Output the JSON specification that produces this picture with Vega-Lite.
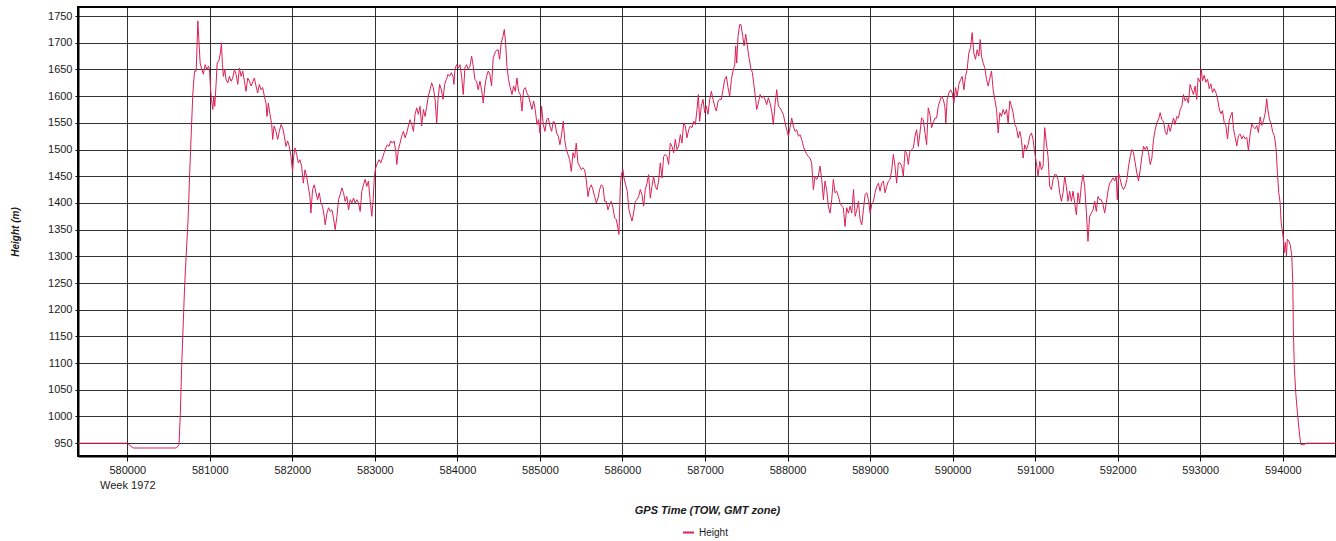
{
  "$schema": "https://vega.github.io/schema/vega-lite/v6.json",
  "width": 1258,
  "height": 449,
  "autosize": "none",
  "padding": {"left": 78, "top": 7, "right": 0, "bottom": 85},
  "background": "white",
  "config": {
    "view": {"stroke": "#000", "strokeWidth": 2},
    "font": "Liberation Sans",
    "axis": {
      "labelFont": "Liberation Sans",
      "labelFontSize": 11,
      "labelColor": "#1a1a1a",
      "titleFont": "Liberation Sans",
      "titleFontStyle": "italic",
      "titleFontWeight": "bold",
      "titleColor": "#1a1a1a",
      "gridColor": "#000",
      "gridOpacity": 0.8,
      "gridWidth": 1,
      "domainColor": "#000",
      "domainWidth": 2,
      "tickColor": "#000"
    }
  },
  "data": {
    "values": [
      {"time": 579380, "height": 950},
      {"time": 580000, "height": 950},
      {"time": 580072, "height": 941},
      {"time": 580594, "height": 941},
      {"time": 580627, "height": 947},
      {"time": 580643, "height": 1006},
      {"time": 580659, "height": 1094},
      {"time": 580675, "height": 1162},
      {"time": 580695, "height": 1244},
      {"time": 580715, "height": 1306},
      {"time": 580735, "height": 1362},
      {"time": 580755, "height": 1450},
      {"time": 580775, "height": 1531},
      {"time": 580795, "height": 1606},
      {"time": 580815, "height": 1647},
      {"time": 580835, "height": 1647},
      {"time": 580855, "height": 1741},
      {"time": 580867, "height": 1706},
      {"time": 580883, "height": 1662},
      {"time": 580903, "height": 1650},
      {"time": 580923, "height": 1641},
      {"time": 580943, "height": 1659},
      {"time": 580964, "height": 1650},
      {"time": 580984, "height": 1656},
      {"time": 580996, "height": 1650},
      {"time": 581008, "height": 1616},
      {"time": 581020, "height": 1594},
      {"time": 581036, "height": 1575},
      {"time": 581048, "height": 1600},
      {"time": 581060, "height": 1581},
      {"time": 581077, "height": 1625},
      {"time": 581089, "height": 1662},
      {"time": 581109, "height": 1666},
      {"time": 581129, "height": 1681},
      {"time": 581141, "height": 1700},
      {"time": 581153, "height": 1659},
      {"time": 581165, "height": 1637},
      {"time": 581181, "height": 1650},
      {"time": 581197, "height": 1631},
      {"time": 581218, "height": 1625},
      {"time": 581238, "height": 1637},
      {"time": 581258, "height": 1628},
      {"time": 581278, "height": 1634},
      {"time": 581298, "height": 1650},
      {"time": 581318, "height": 1641},
      {"time": 581339, "height": 1622},
      {"time": 581359, "height": 1653},
      {"time": 581379, "height": 1637},
      {"time": 581399, "height": 1647},
      {"time": 581419, "height": 1628},
      {"time": 581439, "height": 1609},
      {"time": 581459, "height": 1634},
      {"time": 581480, "height": 1628},
      {"time": 581500, "height": 1619},
      {"time": 581540, "height": 1634},
      {"time": 581560, "height": 1619},
      {"time": 581580, "height": 1606},
      {"time": 581600, "height": 1622},
      {"time": 581621, "height": 1612},
      {"time": 581641, "height": 1616},
      {"time": 581661, "height": 1600},
      {"time": 581681, "height": 1587},
      {"time": 581693, "height": 1562},
      {"time": 581709, "height": 1587},
      {"time": 581729, "height": 1566},
      {"time": 581750, "height": 1547},
      {"time": 581762, "height": 1519},
      {"time": 581778, "height": 1544},
      {"time": 581802, "height": 1534},
      {"time": 581822, "height": 1519},
      {"time": 581842, "height": 1534},
      {"time": 581863, "height": 1547},
      {"time": 581883, "height": 1541},
      {"time": 581903, "height": 1525},
      {"time": 581923, "height": 1506},
      {"time": 581943, "height": 1516},
      {"time": 581963, "height": 1506},
      {"time": 581983, "height": 1487},
      {"time": 582003, "height": 1459},
      {"time": 582016, "height": 1487},
      {"time": 582032, "height": 1503},
      {"time": 582052, "height": 1491},
      {"time": 582072, "height": 1475},
      {"time": 582092, "height": 1481},
      {"time": 582112, "height": 1469},
      {"time": 582133, "height": 1437},
      {"time": 582153, "height": 1462},
      {"time": 582173, "height": 1450},
      {"time": 582193, "height": 1431},
      {"time": 582213, "height": 1412},
      {"time": 582225, "height": 1381},
      {"time": 582245, "height": 1425},
      {"time": 582266, "height": 1434},
      {"time": 582286, "height": 1419},
      {"time": 582306, "height": 1406},
      {"time": 582326, "height": 1419},
      {"time": 582346, "height": 1400},
      {"time": 582366, "height": 1394},
      {"time": 582386, "height": 1375},
      {"time": 582398, "height": 1359},
      {"time": 582419, "height": 1381},
      {"time": 582439, "height": 1391},
      {"time": 582459, "height": 1384},
      {"time": 582479, "height": 1387},
      {"time": 582499, "height": 1372},
      {"time": 582519, "height": 1350},
      {"time": 582540, "height": 1375},
      {"time": 582560, "height": 1406},
      {"time": 582580, "height": 1416},
      {"time": 582600, "height": 1428},
      {"time": 582620, "height": 1419},
      {"time": 582640, "height": 1403},
      {"time": 582660, "height": 1412},
      {"time": 582681, "height": 1387},
      {"time": 582701, "height": 1406},
      {"time": 582721, "height": 1400},
      {"time": 582741, "height": 1409},
      {"time": 582761, "height": 1400},
      {"time": 582781, "height": 1406},
      {"time": 582801, "height": 1400},
      {"time": 582822, "height": 1384},
      {"time": 582842, "height": 1422},
      {"time": 582862, "height": 1434},
      {"time": 582882, "height": 1444},
      {"time": 582902, "height": 1431},
      {"time": 582922, "height": 1441},
      {"time": 582942, "height": 1406},
      {"time": 582963, "height": 1375},
      {"time": 582979, "height": 1406},
      {"time": 582995, "height": 1453},
      {"time": 583011, "height": 1466},
      {"time": 583031, "height": 1475},
      {"time": 583051, "height": 1481},
      {"time": 583071, "height": 1475},
      {"time": 583092, "height": 1484},
      {"time": 583112, "height": 1494},
      {"time": 583132, "height": 1503},
      {"time": 583152, "height": 1509},
      {"time": 583172, "height": 1506},
      {"time": 583192, "height": 1516},
      {"time": 583212, "height": 1512},
      {"time": 583233, "height": 1516},
      {"time": 583253, "height": 1497},
      {"time": 583265, "height": 1472},
      {"time": 583285, "height": 1500},
      {"time": 583305, "height": 1512},
      {"time": 583325, "height": 1525},
      {"time": 583346, "height": 1534},
      {"time": 583366, "height": 1522},
      {"time": 583386, "height": 1531},
      {"time": 583406, "height": 1544},
      {"time": 583426, "height": 1556},
      {"time": 583446, "height": 1547},
      {"time": 583467, "height": 1534},
      {"time": 583487, "height": 1566},
      {"time": 583507, "height": 1578},
      {"time": 583527, "height": 1566},
      {"time": 583547, "height": 1581},
      {"time": 583567, "height": 1544},
      {"time": 583588, "height": 1575},
      {"time": 583608, "height": 1562},
      {"time": 583628, "height": 1581},
      {"time": 583648, "height": 1600},
      {"time": 583668, "height": 1612},
      {"time": 583688, "height": 1625},
      {"time": 583708, "height": 1616},
      {"time": 583729, "height": 1594},
      {"time": 583749, "height": 1550},
      {"time": 583765, "height": 1594},
      {"time": 583785, "height": 1622},
      {"time": 583805, "height": 1612},
      {"time": 583825, "height": 1594},
      {"time": 583845, "height": 1622},
      {"time": 583866, "height": 1631},
      {"time": 583886, "height": 1641},
      {"time": 583906, "height": 1637},
      {"time": 583926, "height": 1644},
      {"time": 583946, "height": 1637},
      {"time": 583958, "height": 1622},
      {"time": 583970, "height": 1650},
      {"time": 583990, "height": 1659},
      {"time": 584011, "height": 1653},
      {"time": 584031, "height": 1659},
      {"time": 584051, "height": 1637},
      {"time": 584071, "height": 1603},
      {"time": 584091, "height": 1653},
      {"time": 584111, "height": 1659},
      {"time": 584131, "height": 1650},
      {"time": 584152, "height": 1656},
      {"time": 584172, "height": 1675},
      {"time": 584192, "height": 1656},
      {"time": 584212, "height": 1631},
      {"time": 584232, "height": 1628},
      {"time": 584252, "height": 1612},
      {"time": 584273, "height": 1628},
      {"time": 584293, "height": 1612},
      {"time": 584313, "height": 1587},
      {"time": 584333, "height": 1619},
      {"time": 584353, "height": 1637},
      {"time": 584373, "height": 1647},
      {"time": 584393, "height": 1641},
      {"time": 584414, "height": 1619},
      {"time": 584434, "height": 1672},
      {"time": 584462, "height": 1684},
      {"time": 584494, "height": 1687},
      {"time": 584511, "height": 1669},
      {"time": 584531, "height": 1700},
      {"time": 584552, "height": 1712},
      {"time": 584568, "height": 1725},
      {"time": 584584, "height": 1700},
      {"time": 584600, "height": 1656},
      {"time": 584620, "height": 1631},
      {"time": 584640, "height": 1616},
      {"time": 584661, "height": 1603},
      {"time": 584681, "height": 1619},
      {"time": 584701, "height": 1609},
      {"time": 584721, "height": 1634},
      {"time": 584741, "height": 1609},
      {"time": 584762, "height": 1603},
      {"time": 584782, "height": 1572},
      {"time": 584802, "height": 1612},
      {"time": 584822, "height": 1616},
      {"time": 584842, "height": 1606},
      {"time": 584862, "height": 1600},
      {"time": 584883, "height": 1587},
      {"time": 584903, "height": 1575},
      {"time": 584923, "height": 1591},
      {"time": 584943, "height": 1575},
      {"time": 584964, "height": 1547},
      {"time": 584984, "height": 1556},
      {"time": 585000, "height": 1531},
      {"time": 585020, "height": 1581},
      {"time": 585040, "height": 1547},
      {"time": 585061, "height": 1534},
      {"time": 585081, "height": 1556},
      {"time": 585101, "height": 1559},
      {"time": 585121, "height": 1544},
      {"time": 585141, "height": 1534},
      {"time": 585162, "height": 1553},
      {"time": 585182, "height": 1550},
      {"time": 585202, "height": 1531},
      {"time": 585222, "height": 1525},
      {"time": 585242, "height": 1509},
      {"time": 585262, "height": 1528},
      {"time": 585283, "height": 1553},
      {"time": 585299, "height": 1519},
      {"time": 585319, "height": 1500},
      {"time": 585339, "height": 1491},
      {"time": 585360, "height": 1481},
      {"time": 585380, "height": 1459},
      {"time": 585400, "height": 1494},
      {"time": 585420, "height": 1484},
      {"time": 585440, "height": 1512},
      {"time": 585460, "height": 1475},
      {"time": 585481, "height": 1469},
      {"time": 585501, "height": 1462},
      {"time": 585521, "height": 1466},
      {"time": 585541, "height": 1462},
      {"time": 585561, "height": 1444},
      {"time": 585582, "height": 1412},
      {"time": 585602, "height": 1428},
      {"time": 585622, "height": 1434},
      {"time": 585642, "height": 1425},
      {"time": 585663, "height": 1412},
      {"time": 585683, "height": 1400},
      {"time": 585703, "height": 1409},
      {"time": 585723, "height": 1425},
      {"time": 585743, "height": 1434},
      {"time": 585764, "height": 1431},
      {"time": 585784, "height": 1403},
      {"time": 585804, "height": 1403},
      {"time": 585824, "height": 1387},
      {"time": 585844, "height": 1397},
      {"time": 585864, "height": 1403},
      {"time": 585885, "height": 1391},
      {"time": 585905, "height": 1372},
      {"time": 585925, "height": 1369},
      {"time": 585945, "height": 1353},
      {"time": 585957, "height": 1341},
      {"time": 585974, "height": 1431},
      {"time": 585986, "height": 1453},
      {"time": 586006, "height": 1462},
      {"time": 586018, "height": 1447},
      {"time": 586038, "height": 1434},
      {"time": 586058, "height": 1422},
      {"time": 586078, "height": 1387},
      {"time": 586099, "height": 1375},
      {"time": 586115, "height": 1366},
      {"time": 586135, "height": 1381},
      {"time": 586155, "height": 1403},
      {"time": 586175, "height": 1406},
      {"time": 586196, "height": 1412},
      {"time": 586216, "height": 1425},
      {"time": 586236, "height": 1416},
      {"time": 586256, "height": 1394},
      {"time": 586276, "height": 1425},
      {"time": 586297, "height": 1437},
      {"time": 586317, "height": 1453},
      {"time": 586337, "height": 1409},
      {"time": 586357, "height": 1431},
      {"time": 586377, "height": 1450},
      {"time": 586398, "height": 1431},
      {"time": 586418, "height": 1425},
      {"time": 586438, "height": 1441},
      {"time": 586458, "height": 1475},
      {"time": 586478, "height": 1447},
      {"time": 586499, "height": 1487},
      {"time": 586519, "height": 1491},
      {"time": 586539, "height": 1487},
      {"time": 586559, "height": 1472},
      {"time": 586579, "height": 1512},
      {"time": 586600, "height": 1506},
      {"time": 586620, "height": 1494},
      {"time": 586640, "height": 1519},
      {"time": 586660, "height": 1500},
      {"time": 586680, "height": 1506},
      {"time": 586701, "height": 1528},
      {"time": 586721, "height": 1512},
      {"time": 586741, "height": 1550},
      {"time": 586761, "height": 1544},
      {"time": 586781, "height": 1522},
      {"time": 586802, "height": 1537},
      {"time": 586822, "height": 1544},
      {"time": 586842, "height": 1541},
      {"time": 586862, "height": 1553},
      {"time": 586883, "height": 1547},
      {"time": 586903, "height": 1575},
      {"time": 586919, "height": 1603},
      {"time": 586935, "height": 1553},
      {"time": 586955, "height": 1581},
      {"time": 586976, "height": 1594},
      {"time": 586996, "height": 1569},
      {"time": 587016, "height": 1581},
      {"time": 587036, "height": 1566},
      {"time": 587057, "height": 1594},
      {"time": 587077, "height": 1609},
      {"time": 587097, "height": 1594},
      {"time": 587117, "height": 1581},
      {"time": 587137, "height": 1572},
      {"time": 587158, "height": 1591},
      {"time": 587178, "height": 1594},
      {"time": 587198, "height": 1594},
      {"time": 587218, "height": 1612},
      {"time": 587238, "height": 1631},
      {"time": 587259, "height": 1637},
      {"time": 587279, "height": 1616},
      {"time": 587299, "height": 1600},
      {"time": 587319, "height": 1631},
      {"time": 587339, "height": 1647},
      {"time": 587360, "height": 1659},
      {"time": 587372, "height": 1694},
      {"time": 587384, "height": 1662},
      {"time": 587400, "height": 1712},
      {"time": 587420, "height": 1734},
      {"time": 587436, "height": 1734},
      {"time": 587457, "height": 1712},
      {"time": 587473, "height": 1694},
      {"time": 587493, "height": 1716},
      {"time": 587513, "height": 1694},
      {"time": 587533, "height": 1672},
      {"time": 587554, "height": 1653},
      {"time": 587574, "height": 1644},
      {"time": 587594, "height": 1619},
      {"time": 587614, "height": 1594},
      {"time": 587626, "height": 1575},
      {"time": 587646, "height": 1587},
      {"time": 587667, "height": 1603},
      {"time": 587687, "height": 1597},
      {"time": 587707, "height": 1600},
      {"time": 587727, "height": 1594},
      {"time": 587747, "height": 1584},
      {"time": 587768, "height": 1597},
      {"time": 587788, "height": 1587},
      {"time": 587808, "height": 1572},
      {"time": 587828, "height": 1547},
      {"time": 587848, "height": 1584},
      {"time": 587869, "height": 1612},
      {"time": 587889, "height": 1581},
      {"time": 587909, "height": 1578},
      {"time": 587929, "height": 1572},
      {"time": 587949, "height": 1566},
      {"time": 587970, "height": 1550},
      {"time": 587990, "height": 1537},
      {"time": 588010, "height": 1525},
      {"time": 588030, "height": 1541},
      {"time": 588050, "height": 1559},
      {"time": 588070, "height": 1544},
      {"time": 588091, "height": 1534},
      {"time": 588111, "height": 1537},
      {"time": 588131, "height": 1525},
      {"time": 588151, "height": 1528},
      {"time": 588171, "height": 1519},
      {"time": 588192, "height": 1506},
      {"time": 588212, "height": 1497},
      {"time": 588232, "height": 1491},
      {"time": 588252, "height": 1487},
      {"time": 588272, "height": 1484},
      {"time": 588292, "height": 1475},
      {"time": 588313, "height": 1425},
      {"time": 588333, "height": 1450},
      {"time": 588353, "height": 1444},
      {"time": 588373, "height": 1450},
      {"time": 588393, "height": 1469},
      {"time": 588414, "height": 1444},
      {"time": 588434, "height": 1406},
      {"time": 588454, "height": 1441},
      {"time": 588474, "height": 1425},
      {"time": 588494, "height": 1394},
      {"time": 588515, "height": 1381},
      {"time": 588535, "height": 1406},
      {"time": 588555, "height": 1444},
      {"time": 588575, "height": 1419},
      {"time": 588595, "height": 1422},
      {"time": 588616, "height": 1412},
      {"time": 588636, "height": 1400},
      {"time": 588656, "height": 1394},
      {"time": 588676, "height": 1391},
      {"time": 588696, "height": 1356},
      {"time": 588717, "height": 1391},
      {"time": 588737, "height": 1381},
      {"time": 588758, "height": 1394},
      {"time": 588778, "height": 1381},
      {"time": 588799, "height": 1425},
      {"time": 588819, "height": 1375},
      {"time": 588839, "height": 1387},
      {"time": 588859, "height": 1403},
      {"time": 588879, "height": 1369},
      {"time": 588899, "height": 1359},
      {"time": 588919, "height": 1387},
      {"time": 588940, "height": 1416},
      {"time": 588960, "height": 1419},
      {"time": 588980, "height": 1406},
      {"time": 589000, "height": 1381},
      {"time": 589020, "height": 1397},
      {"time": 589040, "height": 1403},
      {"time": 589060, "height": 1419},
      {"time": 589081, "height": 1431},
      {"time": 589101, "height": 1437},
      {"time": 589121, "height": 1422},
      {"time": 589141, "height": 1437},
      {"time": 589161, "height": 1441},
      {"time": 589181, "height": 1419},
      {"time": 589201, "height": 1431},
      {"time": 589222, "height": 1441},
      {"time": 589242, "height": 1444},
      {"time": 589262, "height": 1462},
      {"time": 589282, "height": 1491},
      {"time": 589302, "height": 1469},
      {"time": 589322, "height": 1437},
      {"time": 589342, "height": 1475},
      {"time": 589363, "height": 1475},
      {"time": 589383, "height": 1469},
      {"time": 589403, "height": 1450},
      {"time": 589423, "height": 1497},
      {"time": 589443, "height": 1494},
      {"time": 589463, "height": 1472},
      {"time": 589483, "height": 1497},
      {"time": 589504, "height": 1500},
      {"time": 589524, "height": 1503},
      {"time": 589544, "height": 1525},
      {"time": 589564, "height": 1537},
      {"time": 589584, "height": 1506},
      {"time": 589604, "height": 1531},
      {"time": 589624, "height": 1559},
      {"time": 589645, "height": 1556},
      {"time": 589665, "height": 1531},
      {"time": 589685, "height": 1509},
      {"time": 589705, "height": 1578},
      {"time": 589725, "height": 1566},
      {"time": 589745, "height": 1541},
      {"time": 589765, "height": 1550},
      {"time": 589786, "height": 1559},
      {"time": 589806, "height": 1559},
      {"time": 589826, "height": 1581},
      {"time": 589846, "height": 1591},
      {"time": 589866, "height": 1600},
      {"time": 589886, "height": 1594},
      {"time": 589906, "height": 1581},
      {"time": 589918, "height": 1550},
      {"time": 589934, "height": 1594},
      {"time": 589955, "height": 1606},
      {"time": 589975, "height": 1612},
      {"time": 589995, "height": 1606},
      {"time": 590015, "height": 1587},
      {"time": 590035, "height": 1616},
      {"time": 590055, "height": 1600},
      {"time": 590075, "height": 1622},
      {"time": 590096, "height": 1631},
      {"time": 590116, "height": 1637},
      {"time": 590136, "height": 1612},
      {"time": 590156, "height": 1637},
      {"time": 590176, "height": 1650},
      {"time": 590196, "height": 1681},
      {"time": 590217, "height": 1691},
      {"time": 590237, "height": 1719},
      {"time": 590257, "height": 1681},
      {"time": 590277, "height": 1669},
      {"time": 590297, "height": 1687},
      {"time": 590318, "height": 1675},
      {"time": 590334, "height": 1706},
      {"time": 590350, "height": 1675},
      {"time": 590370, "height": 1662},
      {"time": 590390, "height": 1653},
      {"time": 590411, "height": 1631},
      {"time": 590431, "height": 1619},
      {"time": 590451, "height": 1634},
      {"time": 590471, "height": 1647},
      {"time": 590491, "height": 1612},
      {"time": 590511, "height": 1594},
      {"time": 590532, "height": 1575},
      {"time": 590552, "height": 1531},
      {"time": 590572, "height": 1569},
      {"time": 590592, "height": 1562},
      {"time": 590612, "height": 1575},
      {"time": 590632, "height": 1566},
      {"time": 590653, "height": 1575},
      {"time": 590673, "height": 1550},
      {"time": 590693, "height": 1591},
      {"time": 590713, "height": 1581},
      {"time": 590733, "height": 1569},
      {"time": 590753, "height": 1547},
      {"time": 590773, "height": 1541},
      {"time": 590794, "height": 1522},
      {"time": 590814, "height": 1534},
      {"time": 590834, "height": 1519},
      {"time": 590854, "height": 1484},
      {"time": 590874, "height": 1509},
      {"time": 590894, "height": 1500},
      {"time": 590915, "height": 1509},
      {"time": 590935, "height": 1525},
      {"time": 590955, "height": 1531},
      {"time": 590975, "height": 1519},
      {"time": 590995, "height": 1494},
      {"time": 591015, "height": 1475},
      {"time": 591035, "height": 1450},
      {"time": 591056, "height": 1478},
      {"time": 591076, "height": 1462},
      {"time": 591096, "height": 1469},
      {"time": 591116, "height": 1541},
      {"time": 591136, "height": 1512},
      {"time": 591156, "height": 1487},
      {"time": 591176, "height": 1431},
      {"time": 591197, "height": 1425},
      {"time": 591217, "height": 1444},
      {"time": 591237, "height": 1453},
      {"time": 591257, "height": 1453},
      {"time": 591277, "height": 1444},
      {"time": 591297, "height": 1419},
      {"time": 591318, "height": 1403},
      {"time": 591338, "height": 1419},
      {"time": 591358, "height": 1450},
      {"time": 591378, "height": 1431},
      {"time": 591398, "height": 1403},
      {"time": 591418, "height": 1422},
      {"time": 591439, "height": 1403},
      {"time": 591459, "height": 1422},
      {"time": 591479, "height": 1400},
      {"time": 591499, "height": 1378},
      {"time": 591519, "height": 1419},
      {"time": 591539, "height": 1400},
      {"time": 591560, "height": 1434},
      {"time": 591580, "height": 1453},
      {"time": 591600, "height": 1431},
      {"time": 591620, "height": 1384},
      {"time": 591640, "height": 1328},
      {"time": 591660, "height": 1375},
      {"time": 591681, "height": 1381},
      {"time": 591701, "height": 1387},
      {"time": 591721, "height": 1403},
      {"time": 591741, "height": 1384},
      {"time": 591761, "height": 1412},
      {"time": 591781, "height": 1406},
      {"time": 591801, "height": 1406},
      {"time": 591822, "height": 1397},
      {"time": 591842, "height": 1381},
      {"time": 591862, "height": 1400},
      {"time": 591882, "height": 1422},
      {"time": 591902, "height": 1437},
      {"time": 591922, "height": 1441},
      {"time": 591943, "height": 1447},
      {"time": 591963, "height": 1441},
      {"time": 591983, "height": 1450},
      {"time": 591995, "height": 1406},
      {"time": 592011, "height": 1456},
      {"time": 592031, "height": 1444},
      {"time": 592051, "height": 1431},
      {"time": 592071, "height": 1425},
      {"time": 592091, "height": 1431},
      {"time": 592112, "height": 1444},
      {"time": 592132, "height": 1469},
      {"time": 592152, "height": 1487},
      {"time": 592172, "height": 1500},
      {"time": 592192, "height": 1494},
      {"time": 592212, "height": 1475},
      {"time": 592232, "height": 1456},
      {"time": 592252, "height": 1441},
      {"time": 592273, "height": 1462},
      {"time": 592293, "height": 1487},
      {"time": 592313, "height": 1506},
      {"time": 592333, "height": 1500},
      {"time": 592353, "height": 1506},
      {"time": 592373, "height": 1494},
      {"time": 592394, "height": 1472},
      {"time": 592414, "height": 1484},
      {"time": 592434, "height": 1519},
      {"time": 592454, "height": 1537},
      {"time": 592474, "height": 1550},
      {"time": 592494, "height": 1556},
      {"time": 592515, "height": 1569},
      {"time": 592535, "height": 1556},
      {"time": 592555, "height": 1553},
      {"time": 592575, "height": 1534},
      {"time": 592595, "height": 1528},
      {"time": 592615, "height": 1547},
      {"time": 592636, "height": 1534},
      {"time": 592656, "height": 1547},
      {"time": 592676, "height": 1559},
      {"time": 592696, "height": 1547},
      {"time": 592716, "height": 1562},
      {"time": 592736, "height": 1559},
      {"time": 592757, "height": 1575},
      {"time": 592777, "height": 1581},
      {"time": 592797, "height": 1603},
      {"time": 592817, "height": 1591},
      {"time": 592837, "height": 1597},
      {"time": 592857, "height": 1587},
      {"time": 592877, "height": 1622},
      {"time": 592898, "height": 1612},
      {"time": 592918, "height": 1603},
      {"time": 592938, "height": 1619},
      {"time": 592958, "height": 1594},
      {"time": 592974, "height": 1634},
      {"time": 593000, "height": 1626},
      {"time": 593012, "height": 1651},
      {"time": 593028, "height": 1629},
      {"time": 593048, "height": 1639},
      {"time": 593069, "height": 1626},
      {"time": 593089, "height": 1632},
      {"time": 593109, "height": 1614},
      {"time": 593129, "height": 1623},
      {"time": 593149, "height": 1607},
      {"time": 593169, "height": 1614},
      {"time": 593189, "height": 1607},
      {"time": 593210, "height": 1595},
      {"time": 593230, "height": 1576},
      {"time": 593250, "height": 1567},
      {"time": 593270, "height": 1573},
      {"time": 593290, "height": 1551},
      {"time": 593310, "height": 1545},
      {"time": 593331, "height": 1520},
      {"time": 593351, "height": 1554},
      {"time": 593371, "height": 1564},
      {"time": 593387, "height": 1570},
      {"time": 593403, "height": 1539},
      {"time": 593423, "height": 1523},
      {"time": 593443, "height": 1507},
      {"time": 593463, "height": 1526},
      {"time": 593484, "height": 1529},
      {"time": 593504, "height": 1520},
      {"time": 593524, "height": 1526},
      {"time": 593544, "height": 1520},
      {"time": 593564, "height": 1523},
      {"time": 593584, "height": 1498},
      {"time": 593605, "height": 1529},
      {"time": 593625, "height": 1548},
      {"time": 593645, "height": 1542},
      {"time": 593665, "height": 1539},
      {"time": 593685, "height": 1545},
      {"time": 593705, "height": 1532},
      {"time": 593726, "height": 1561},
      {"time": 593746, "height": 1545},
      {"time": 593766, "height": 1554},
      {"time": 593786, "height": 1567},
      {"time": 593806, "height": 1595},
      {"time": 593818, "height": 1576},
      {"time": 593838, "height": 1557},
      {"time": 593859, "height": 1548},
      {"time": 593879, "height": 1532},
      {"time": 593899, "height": 1526},
      {"time": 593919, "height": 1501},
      {"time": 593935, "height": 1457},
      {"time": 593951, "height": 1420},
      {"time": 593968, "height": 1401},
      {"time": 593980, "height": 1364},
      {"time": 593992, "height": 1351},
      {"time": 594008, "height": 1332},
      {"time": 594020, "height": 1307},
      {"time": 594032, "height": 1326},
      {"time": 594044, "height": 1301},
      {"time": 594056, "height": 1332},
      {"time": 594073, "height": 1329},
      {"time": 594093, "height": 1320},
      {"time": 594109, "height": 1301},
      {"time": 594121, "height": 1251},
      {"time": 594129, "height": 1158},
      {"time": 594141, "height": 1089},
      {"time": 594157, "height": 1045},
      {"time": 594177, "height": 1008},
      {"time": 594197, "height": 976},
      {"time": 594217, "height": 948},
      {"time": 594250, "height": 947},
      {"time": 594290, "height": 950},
      {"time": 594700, "height": 950}
    ]
  },
  "mark": {"type": "line", "strokeWidth": 1, "clip": true, "interpolate": "linear"},
  "encoding": {
    "x": {
      "field": "time",
      "type": "quantitative",
      "scale": {"domain": [579403, 594645], "nice": false, "zero": false},
      "axis": {
        "values": [580000, 581000, 582000, 583000, 584000, 585000, 586000, 587000, 588000, 589000, 590000, 591000, 592000, 593000, 594000],
        "format": "d",
        "labelExpr": "datum.value == 580000 ? ['580000', 'Week 1972'] : datum.label",
        "labelLineHeight": 15,
        "tickSize": 5,
        "labelPadding": 3,
        "labelBaseline": "top",
        "title": "GPS Time (TOW, GMT zone)",
        "titleFontSize": 11,
        "titlePadding": 14,
        "grid": true
      }
    },
    "y": {
      "field": "height",
      "type": "quantitative",
      "scale": {"domain": [926, 1767], "nice": false, "zero": false},
      "axis": {
        "values": [950, 1000, 1050, 1100, 1150, 1200, 1250, 1300, 1350, 1400, 1450, 1500, 1550, 1600, 1650, 1700, 1750],
        "format": "d",
        "tickSize": 3,
        "labelPadding": 3,
        "title": "Height (m)",
        "titleFontSize": 10,
        "titlePadding": 27,
        "grid": true
      }
    },
    "color": {
      "datum": "Height",
      "type": "nominal",
      "scale": {"domain": ["Height"], "range": ["#dc2055"]},
      "legend": {
        "title": null,
        "orient": "none",
        "legendX": 604,
        "legendY": 519,
        "symbolType": "stroke",
        "symbolStrokeWidth": 2,
        "symbolSize": 120,
        "labelFont": "Liberation Sans",
        "labelFontSize": 10,
        "labelColor": "#1a1a1a"
      }
    }
  }
}
